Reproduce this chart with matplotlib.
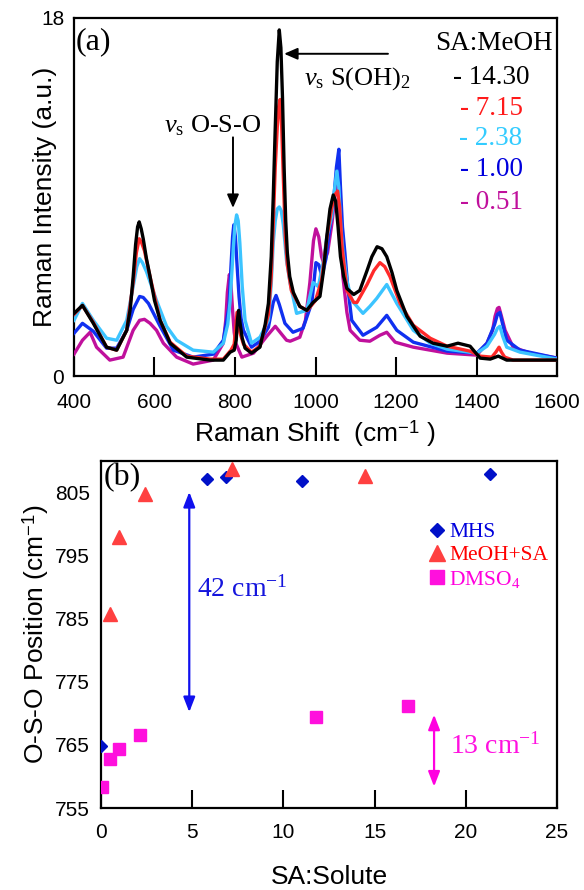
import matplotlib
matplotlib.use("Agg")
import matplotlib.pyplot as plt

plt.rcParams["font.family"] = ["Liberation Sans", "DejaVu Sans"]
plt.rcParams["mathtext.fontset"] = "custom"
plt.rcParams["mathtext.rm"] = "Liberation Serif"
plt.rcParams["mathtext.it"] = "Liberation Serif:italic"
plt.rcParams["mathtext.sf"] = "Liberation Sans"

SERIF = "Liberation Serif"

# =========================
# (a) Raman spectra, SA:MeOH ratios
# =========================
ratio_labels = ["- 14.30", "- 7.15", "- 2.38", "- 1.00", "- 0.51"]
ratio_colors = ["#000000", "#ff2a2a", "#3cc4ff", "#1030f0", "#c0109c"]
text_colors = ["#000000", "#ff1a1a", "#33ccff", "#0000dd", "#c0109c"]

shift_1430 = [400, 421, 448, 481, 506, 531, 540, 547, 553, 558, 562, 567, 572, 580, 589, 600,
              614, 639, 680, 738, 771, 788, 798, 803, 806, 809, 813, 818, 825, 841, 862, 875,
              883, 890, 895, 900, 905, 910, 914, 918, 922, 926, 930, 936, 945, 961, 978, 994,
              1011, 1020, 1028, 1036, 1044, 1050, 1056, 1062, 1070, 1078, 1095, 1110, 1128,
              1140, 1153, 1165, 1177, 1190, 1202, 1227, 1260, 1292, 1327, 1354, 1384, 1409,
              1434, 1454, 1475, 1520, 1600]
int_1430 = [3.15, 3.55, 2.65, 1.45, 1.3, 2.3, 3.4, 5.0, 6.6, 7.5, 7.75, 7.4, 6.9, 5.9, 5.0, 3.8,
            2.8, 1.65, 0.95, 0.8, 0.8, 1.2, 1.3, 1.8, 2.8, 3.3, 2.6, 1.9, 1.4, 1.15, 1.45, 2.6,
            3.65, 6.0, 9.0, 12.5, 15.8, 17.4, 16.5, 14.0, 10.5, 7.8, 6.2, 5.0, 4.2, 3.5, 3.3, 3.7,
            4.0, 5.3, 7.0, 8.4, 9.1, 8.8, 7.5, 6.0, 5.0, 4.4, 4.1, 4.3, 5.3,
            6.0, 6.5, 6.4, 6.0, 5.2, 4.3, 3.0, 2.0, 1.65, 1.5, 1.65, 1.5, 0.9,
            0.85, 1.0, 0.8, 0.8, 0.8]

shift_715 = [400, 421, 448, 481, 506, 531, 547, 555, 562, 568, 575, 590, 614, 639, 680, 738,
             771, 790, 798, 805, 812, 821, 841, 862, 883, 890, 895, 900, 905, 908, 912, 916,
             920, 925, 930, 940, 961, 980, 1000, 1015, 1030, 1040, 1048, 1055, 1060, 1066,
             1078, 1095, 1103, 1128, 1145, 1160, 1172, 1185, 1210, 1243, 1285, 1327, 1384,
             1409, 1438, 1448, 1456, 1462, 1470, 1491, 1600]
int_715 = [3.1, 3.55, 2.7, 1.45, 1.3, 2.3, 4.7, 6.2, 6.9, 6.7, 6.3, 4.9, 2.8, 1.7, 1.0, 0.85,
           0.85, 1.3, 1.6, 3.2, 2.2, 1.6, 1.2, 1.5, 3.1, 5.0, 7.6, 10.5, 12.5, 13.5, 13.9, 12.5,
           10.0, 7.0, 5.6, 4.3, 3.5, 3.3, 3.8, 4.8, 7.2, 8.4, 9.1, 9.3, 8.5, 6.5,
           4.3, 3.7, 3.7, 4.6, 5.3, 5.7, 5.5, 5.0, 3.65, 2.55, 1.9, 1.5, 1.25,
           1.0, 0.95, 1.2, 1.45, 1.2, 0.95, 0.8, 0.8]

shift_238 = [400, 421, 448, 481, 506, 531, 547, 556, 563, 570, 580, 605, 630, 655, 696, 746,
             771, 782, 788, 796, 800, 804, 808, 812, 818, 825, 841, 862, 883, 890, 895, 900,
             905, 910, 915, 920, 928, 937, 953, 978, 994, 1007, 1020, 1028, 1040, 1046, 1053,
             1058, 1063, 1068, 1078, 1090, 1118, 1135, 1152, 1177, 1202, 1243, 1285, 1327,
             1401, 1426, 1445, 1452, 1458, 1465, 1475, 1508, 1600]
int_238 = [2.8, 3.65, 2.8, 1.9, 1.8, 2.8, 4.5, 5.5, 5.9, 5.7, 5.25, 3.8, 2.5, 1.8, 1.3, 1.2,
           1.65, 2.6, 3.8, 6.5, 7.6, 8.1, 7.8, 6.7, 4.5, 2.8, 1.65, 1.95, 2.8, 4.6, 6.7, 7.8,
           8.4, 8.5, 8.3, 7.6, 5.8, 4.65, 3.15, 3.3, 4.7, 4.5, 5.8, 7.0, 8.0, 9.2, 10.3,
           9.5, 7.5, 6.3, 4.8, 3.8, 3.15, 3.5, 3.9, 4.6, 3.65, 2.3, 1.65, 1.35,
           1.15, 1.5, 2.1, 2.4, 2.5, 2.0, 1.45, 1.2, 0.85]

shift_100 = [400, 421, 448, 481, 506, 531, 547, 563, 572, 585, 614, 647, 696, 746, 771, 785,
             790, 794, 797, 801, 805, 810, 815, 821, 841, 862, 883, 895, 902, 910, 924, 944,
             969, 991, 1001, 1008, 1016, 1026, 1036, 1045, 1052, 1058, 1062, 1067, 1073, 1080,
             1090, 1118, 1152, 1177, 1202, 1243, 1327, 1401, 1426, 1445, 1452, 1458, 1465,
             1475, 1508, 1600]
int_100 = [2.15, 2.65, 2.25, 1.4, 1.4, 2.3, 3.35, 4.0, 3.95, 3.65, 2.5, 1.3, 0.95, 1.1, 1.8, 3.5,
           5.5, 7.0, 7.6, 7.0, 5.6, 4.0, 2.9, 2.3, 1.45, 1.75, 2.45, 3.7, 4.05, 3.6, 2.65, 2.2,
           2.4, 3.7, 5.7, 5.6, 5.0, 5.9, 7.5, 8.8, 10.5, 11.4, 9.5, 7.5, 6.2, 4.5,
           2.8, 2.05, 2.45, 3.05, 2.3, 1.7, 1.25, 1.15, 1.65, 2.6, 3.1, 3.2, 2.6,
           1.8, 1.3, 0.9]

shift_051 = [400, 421, 440, 456, 489, 522, 547, 563, 575, 589, 605, 622, 655, 696, 746, 771,
             777, 781, 786, 790, 794, 798, 802, 817, 846, 879, 900, 928, 937, 961, 975, 986,
             995, 1001, 1008, 1015, 1020, 1030, 1041, 1048, 1053, 1058, 1063, 1068, 1078,
             1086, 1110, 1135, 1160, 1177, 1198, 1243, 1327, 1401, 1426, 1440, 1446, 1452,
             1456, 1462, 1471, 1491, 1533, 1600]
int_051 = [1.1, 1.8, 2.2, 1.45, 0.8, 0.95, 2.3, 2.8, 2.85, 2.65, 2.3, 1.65, 0.95, 0.6, 0.8, 1.65,
           2.8, 4.2, 5.1, 4.6, 3.3, 2.2, 1.65, 0.95, 1.15, 2.0, 2.5, 1.8, 1.75, 1.95, 2.8, 4.7,
           6.8, 7.4, 7.0, 6.0, 5.7, 6.2, 7.7, 9.0, 9.75, 9.0, 7.0, 5.0, 3.2,
           2.3, 1.8, 1.75, 2.05, 2.2, 1.7, 1.45, 1.15, 1.05, 1.65, 2.3, 3.0, 3.4,
           3.45, 3.0, 2.3, 1.45, 1.15, 0.9]

shifts = [shift_1430, shift_715, shift_238, shift_100, shift_051]
intensities = [int_1430, int_715, int_238, int_100, int_051]

# =========================
# (b) O-S-O peak position vs SA:Solute
# =========================
mhs_x = [0.0, 5.8, 6.86, 11.03, 21.34]
mhs_y = [764.8, 807.1, 807.4, 806.9, 808.0]

meoh_x = [0.51, 1.0, 2.4, 7.2, 14.5]
meoh_y = [785.7, 798.0, 804.7, 808.8, 807.6]

dmso_x = [0.04, 0.51, 1.0, 2.12, 11.78, 16.81]
dmso_y = [758.3, 762.7, 764.4, 766.6, 769.4, 771.2]


def main():
    fig = plt.figure(figsize=(5.84, 8.90), dpi=100)
    ax1 = fig.add_axes([0.1267, 0.5775, 0.8271, 0.4023])
    ax2 = fig.add_axes([0.1729, 0.0921, 0.7809, 0.3899])

    # ---- panel (a) ----
    for i in range(len(shifts) - 1, -1, -1):
        ax1.plot(shifts[i], intensities[i], color=ratio_colors[i], lw=2.4,
                 solid_joinstyle="round", zorder=3 + (len(shifts) - i))

    ax1.set_xlim(400, 1600)
    ax1.set_ylim(0, 18)
    ax1.set_xticks([400, 600, 800, 1000, 1200, 1400, 1600])
    ax1.set_yticks([0, 18])
    ax1.tick_params(axis="x", direction="in", length=14, width=1.5, labelsize=15, pad=12)
    ax1.tick_params(axis="y", length=0, labelsize=15, pad=7)
    for s in ax1.spines.values():
        s.set_linewidth(1.6)

    ax1.set_xlabel("Raman Shift  (cm$^{\\mathsf{-1}}$ )", fontsize=19, va="baseline")
    ax1.xaxis.set_label_coords(0.5, -0.182)
    ax1.set_ylabel("Raman Intensity (a.u.)", fontsize=19, va="baseline")
    ax1.yaxis.set_label_coords(-0.046, 0.5)

    ax1.text(405, 16.8, "(a)", family=SERIF, fontsize=23, ha="left", va="center")
    ax1.text(1443, 16.73, "SA:MeOH", family=SERIF, fontsize=19.5, ha="center", va="center")
    label_y = [15.0, 13.47, 11.96, 10.4, 8.74]
    for lab, c, yy in zip(ratio_labels, text_colors, label_y):
        ax1.text(1436, yy, lab, family=SERIF, fontsize=19.5, color=c, ha="center", va="center")

    ax1.text(1105, 14.97, "$\\nu_{\\rm s}$ S(OH)$_2$", family=SERIF, fontsize=19,
             ha="center", va="center")
    ax1.annotate("", xy=(922, 16.2), xytext=(1180, 16.2),
                 arrowprops=dict(arrowstyle="-|>,head_length=0.8,head_width=0.35",
                                 color="black", lw=1.4, shrinkA=0, shrinkB=0))
    ax1.text(745, 12.6, "$\\nu_{\\rm s}$ O-S-O", family=SERIF, fontsize=19,
             ha="center", va="center")
    ax1.annotate("", xy=(795, 8.45), xytext=(795, 12.0),
                 arrowprops=dict(arrowstyle="-|>,head_length=0.8,head_width=0.35",
                                 color="black", lw=1.4, shrinkA=0, shrinkB=0))

    # ---- panel (b) ----
    ax2.plot(mhs_x, mhs_y, "D", color="#0010c8", ms=6, ls="none", label="MHS", zorder=5)
    ax2.plot(meoh_x, meoh_y, "^", color="#ff4040", ms=9.5, ls="none", label="MeOH+SA", zorder=5)
    ax2.plot(dmso_x, dmso_y, "s", color="#ff10dd", ms=8.5, ls="none", label="DMSO$_4$", zorder=5)

    ax2.set_xlim(0, 25)
    ax2.set_ylim(755, 810)
    ax2.set_xticks([0, 5, 10, 15, 20, 25])
    ax2.set_yticks([755, 765, 775, 785, 795, 805])
    ax2.tick_params(axis="x", direction="in", length=13, width=1.5, labelsize=15, pad=11)
    ax2.tick_params(axis="y", length=0, labelsize=15, pad=8)
    for s in ax2.spines.values():
        s.set_linewidth(1.6)

    ax2.set_xlabel("SA:Solute", fontsize=19, va="baseline")
    ax2.xaxis.set_label_coords(0.5, -0.22)
    ax2.set_ylabel("O-S-O Position (cm$^{\\mathsf{-1}}$)", fontsize=19, va="baseline")
    ax2.yaxis.set_label_coords(-0.125, 0.5)

    ax2.text(0.15, 807.3, "(b)", family=SERIF, fontsize=23, ha="left", va="center")

    ax2.annotate("", xy=(4.84, 805.1), xytext=(4.84, 770.2),
                 arrowprops=dict(arrowstyle="<|-|>,head_length=0.9,head_width=0.35",
                                 color="#1010ee", lw=1.6, shrinkA=0, shrinkB=0))
    ax2.text(5.25, 789.7, "42 cm$^{-1}$", family=SERIF, fontsize=20, color="#1515dd",
             ha="left", va="center")
    ax2.annotate("", xy=(18.26, 769.8), xytext=(18.26, 758.4),
                 arrowprops=dict(arrowstyle="<|-|>,head_length=0.9,head_width=0.35",
                                 color="#ff00e0", lw=1.6, shrinkA=0, shrinkB=0))
    ax2.text(19.14, 764.8, "13 cm$^{-1}$", family=SERIF, fontsize=20, color="#ff10e0",
             ha="left", va="center")

    ax2.legend(loc="upper left", bbox_to_anchor=(0.70, 0.855), frameon=False,
               borderpad=0, handlelength=0.6, handletextpad=0.25, labelspacing=0.15,
               markerscale=1.2, prop={"family": SERIF, "size": 15.5},
               labelcolor=["#0000dd", "#ff0000", "#ff00dd"])

    fig.savefig("out.png", dpi=100)


if __name__ == "__main__":
    main()
